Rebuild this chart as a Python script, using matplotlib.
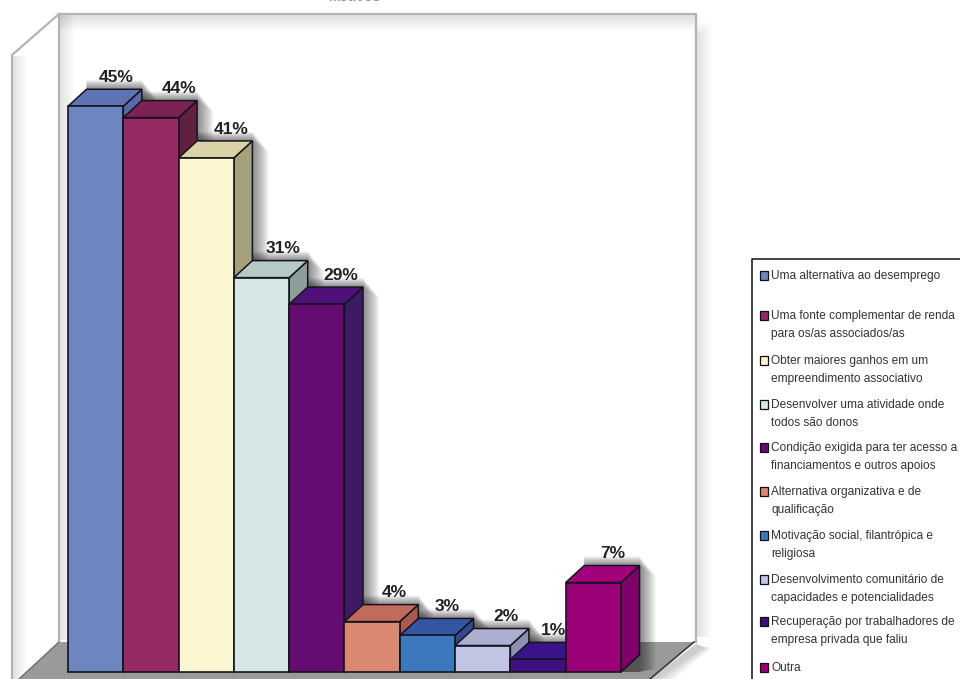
import numpy as np
import matplotlib
matplotlib.use("Agg")
import matplotlib.pyplot as plt
from matplotlib.patches import Polygon, Rectangle

plt.rcParams['font.family'] = ['Liberation Sans', 'DejaVu Sans']

# Data
values = [44.9, 44.0, 40.8, 31.3, 29.2, 4.0, 2.9, 2.1, 1.0, 7.1]
value_labels = ["45%", "44%", "41%", "31%", "29%", "4%", "3%", "2%", "1%", "7%"]
front_colors = ["#6d86bf", "#962a62", "#fbf5d2", "#d5e6e6", "#650c72",
                "#d98871", "#3b78bd", "#c1c4e2", "#3f0f80", "#9a0078"]
top_colors = ["#5f73b4", "#7c2255", "#d9d3a6", "#b7c9c6", "#4f1079",
              "#c26a5c", "#3556a5", "#aeaed2", "#3a1289", "#a3007e"]
side_colors = ["#5a6aa8", "#62203f", "#a3a27a", "#8a9e9c", "#3d1a63",
               "#a85a4c", "#33488f", "#8f8fb0", "#2e0f6a", "#7d0068"]
legend_entries = [
    ["Uma alternativa ao desemprego"],
    ["Uma fonte complementar de renda", "para os/as associados/as"],
    ["Obter maiores ganhos em um", "empreendimento associativo"],
    ["Desenvolver uma atividade onde", "todos são donos"],
    ["Condição exigida para ter acesso a", "financiamentos e outros apoios"],
    ["Alternativa organizativa e de", "qualificação"],
    ["Motivação social, filantrópica e", "religiosa"],
    ["Desenvolvimento comunitário de", "capacidades e potencialidades"],
    ["Recuperação por trabalhadores de", "empresa privada que faliu"],
    ["Outra"],
]
legend_y = [276, 316, 361, 405, 448, 492, 536, 580, 622, 668]
# label nudges in bar widths, the labels do not sit centred in the source
label_nudge = [0.04, 0.18, 0.11, 0.06, 0.09, 0.07, 0.02, 0.09, -0.05, 0.01]

W, H = 960, 679
fig = plt.figure(figsize=(W / 100, H / 100), dpi=100, facecolor="white")

# Background axes in pixels: walls, floor and legend
bg = fig.add_axes([0, 0, 1, 1])
bg.set_xlim(0, W)
bg.set_ylim(H, 0)
bg.axis("off")

# soft shadow right of the back wall
for i in range(14):
    bg.add_patch(Rectangle((696, 22 + i), 16 - i, 615 - i, fc="#000000", ec="none", alpha=0.009))
# shaded strip along the top of the wall
for i in range(14):
    bg.add_patch(Rectangle((60, 15), 636, 16 - i, fc="#000000", ec="none", alpha=0.008))
for i in range(14):
    bg.add_patch(Rectangle((60, 15), 14 - i, 625, fc="#000000", ec="none", alpha=0.006))
    bg.add_patch(Polygon([(13, 56), (13 + 14 - i, 56), (13 + 14 - i, 679), (13, 679)],
                         fc="#000000", ec="none", alpha=0.006))

wall_c = "#b4b4b4"
bg.plot([59, 696, 696], [14, 14, 642], color=wall_c, lw=1.6)
bg.plot([59, 59], [14, 642], color=wall_c, lw=1.6)
bg.plot([59, 12, 12], [14, 55, 679], color=wall_c, lw=1.6)

# floor
for i in range(10):
    bg.add_patch(Polygon([(696, 644), (698 + 14 - i, 648), (655 + 20 - 2 * i, 679), (650, 679)],
                         fc="#000000", ec="none", alpha=0.02))
bg.add_patch(Polygon([(59, 642), (694, 642), (650, 679), (19, 679)], fc="#9a9a9a", ec="none"))
bg.plot([694, 650], [642, 679], color="#3a3a3a", lw=1.2)
bg.plot([59, 19], [642, 679], color="#6e6e6e", lw=1.0)

# Bars axes: x in bar widths, y in percent
bar_w = 55.3
px_per_pct = 12.6
x0, base = 68, 672
ax = fig.add_axes([0, 0, 1, 1])
ax.set_xlim(-x0 / bar_w, (W - x0) / bar_w)
ax.set_ylim(-(H - base) / px_per_pct, base / px_per_pct)
ax.axis("off")
ax.patch.set_alpha(0)

dx = 18.5 / bar_w
dy = 17 / px_per_pct
xs = np.arange(len(values))

# drop shadow behind the bars
for x, v in zip(xs, values):
    for k in range(10):
        s = 0.02 + k * 0.03
        ax.add_patch(Polygon([(x + 1 + dx, 0), (x + 1 + dx + s, 0.2),
                              (x + 1 + dx + s, v + dy - s * 3), (x + 1 + dx, v + dy + s * 2.5),
                              (x + dx, v + dy + s * 2.5), (x + dx, 0)],
                             fc="#000000", ec="none", alpha=0.055, zorder=1))

edge = "#14141e"
# left to right, so each bar's top and side cover the side of the bar before it
for i, (x, v) in enumerate(zip(xs, values)):
    z = 2 + i * 0.01
    ax.add_patch(Polygon([(x + 1, 0), (x + 1 + dx, dy), (x + 1 + dx, v + dy), (x + 1, v)],
                         fc=side_colors[i], ec=edge, lw=1.1, zorder=z))
    ax.add_patch(Polygon([(x, v), (x + dx, v + dy), (x + 1 + dx, v + dy), (x + 1, v)],
                         fc=top_colors[i], ec=edge, lw=1.1, zorder=z))
# fronts on top of every side face
ax.bar(xs + 0.5, values, width=1.0, color=front_colors, edgecolor=edge, linewidth=1.2, zorder=5)

for x, v, lab, n in zip(xs, values, value_labels, label_nudge):
    ax.text(x + 0.5 + dx + n, v + dy + 0.33, lab, ha="center", va="bottom",
            fontsize=12.5, fontweight="bold", color="#222222", zorder=6)

# top title, cut by the image edge as in the source
bg.text(354, -3, "Motivos", ha="center", va="center", fontsize=10, color="#8e8ea8", fontweight="bold")

# Legend
bg.plot([752, 752, 960], [679, 259, 259], color="#222222", lw=1.2)
for lines, y, c in zip(legend_entries, legend_y, front_colors):
    bg.add_patch(Rectangle((759.5, y - 5.5), 8, 9, fc=c, ec="#111111", lw=0.9))
    bg.text(771, y, lines[0], ha="left", va="center", fontsize=8.6, color="#333333")
    if len(lines) > 1:
        bg.text(771, y + 18, lines[1], ha="left", va="center", fontsize=8.6, color="#333333")

fig.savefig("out.png", dpi=100)
